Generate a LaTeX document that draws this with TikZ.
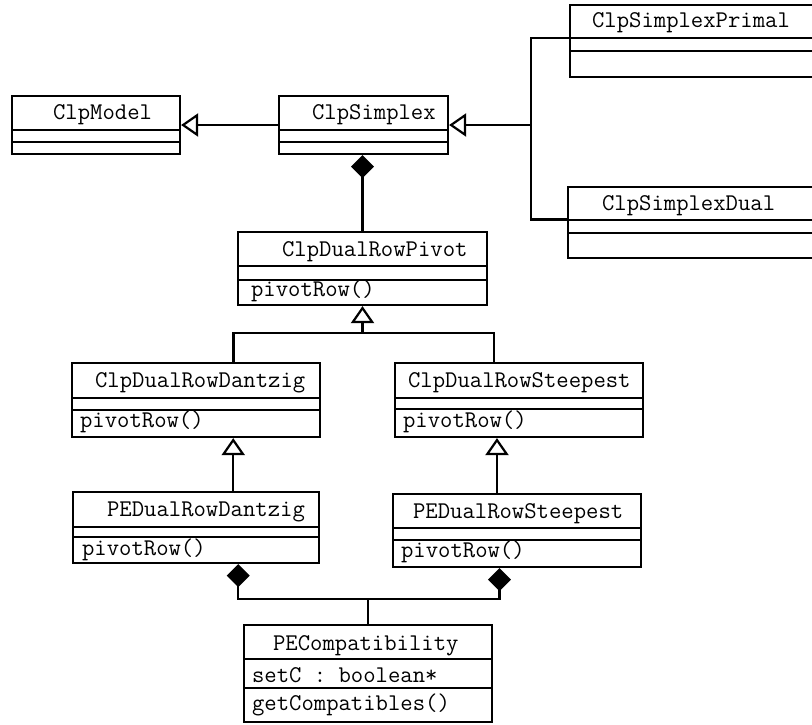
\documentclass[tikz,border=0pt]{standalone}
\usetikzlibrary{arrows.meta,calc,fit}
\tikzstyle{cls}=[draw, inner sep=0pt]
\tikzstyle{ttl}=[anchor=base west, inner sep=0pt, font=\fontsize{12}{14}\selectfont\ttfamily]
\tikzstyle{inh}=[-{Triangle[open, length=8.5pt, width=11.5pt]}]
\tikzstyle{comp}=[-{Diamond[length=11.5pt, width=11.5pt]}]

\begin{document}
\begin{tikzpicture}[x=0.5pt, y=-0.5pt, line width=1.1pt]
\useasboundingbox (0,0) rectangle (812,724);
\clip (0,0) rectangle (812,724);

% classes
\node[cls, fit={(12,96) (180,154)}] (model) {};
\draw (12,130) -- (180,130) (12,142) -- (180,142);
\node[ttl] (modelT) at (52,119) {ClpModel};

\node[cls, fit={(279,96) (448,154)}] (simplex) {};
\draw (279,130) -- (448,130) (279,142) -- (448,142);
\node[ttl] (simplexT) at (311,119) {ClpSimplex};

\node[cls, fit={(570,5) (830,77)}] (primal) {};
\draw (570,38) -- (830,38) (570,51) -- (830,51);
\node[ttl] (primalT) at (591,27) {ClpSimplexPrimal};

\node[cls, fit={(568,187) (830,258)}] (dual) {};
\draw (568,220) -- (830,220) (568,233) -- (830,233);
\node[ttl] (dualT) at (601,210) {ClpSimplexDual};

\node[cls, fit={(238,232) (487,305)}] (pivot) {};
\draw (238,266) -- (487,266) (238,280) -- (487,280);
\node[ttl] (pivotT) at (281,256) {ClpDualRowPivot};
\node[ttl] (pivotM) at (250,296) {pivotRow()};

\node[cls, fit={(72,363) (320,437)}] (dantzig) {};
\draw (72,398) -- (320,398) (72,410) -- (320,410);
\node[ttl] (dantzigT) at (94,387) {ClpDualRowDantzig};
\node[ttl] (dantzigM) at (79,427) {pivotRow()};

\node[cls, fit={(395,363) (643,437)}] (steepest) {};
\draw (395,398) -- (643,398) (395,409) -- (643,409);
\node[ttl] (steepestT) at (407,387) {ClpDualRowSteepest};
\node[ttl] (steepestM) at (402,427) {pivotRow()};

\node[cls, fit={(73,492) (319,563)}] (pedantzig) {};
\draw (73,527) -- (319,527) (73,537) -- (319,537);
\node[ttl] (pedantzigT) at (106,516) {PEDualRowDantzig};
\node[ttl] (pedantzigM) at (81,555) {pivotRow()};

\node[cls, fit={(393,494) (641,567)}] (pesteepest) {};
\draw (393,528) -- (641,528) (393,540) -- (641,540);
\node[ttl] (pesteepestT) at (412,518) {PEDualRowSteepest};
\node[ttl] (pesteepestM) at (400,557) {pivotRow()};

\node[cls, fit={(244,625) (492,722)}] (compat) {};
\draw (244,659) -- (492,659) (244,688) -- (492,688);
\node[ttl] (compatT) at (272,650) {PECompatibility};
\node[ttl] (compatA) at (251,682) {setC : boolean*};
\node[ttl] (compatM) at (251,710) {getCompatibles()};

% generalisation
\draw[inh] (simplex.west) -- (model.east);
\coordinate (fork) at ($(simplex.east)+(82,0)$);
\draw[inh] (fork) -- (simplex.east);
\draw ([yshift=1.5pt]primal.west) -| (fork) |- ([yshift=1.5pt]dual.west);

\coordinate (gen) at ($(pivot.south)+(0,27)$);
\draw[inh] (gen) -- (pivot.south);
\draw ($(dantzig.north west)!.65!(dantzig.north east)$) |- (gen) -| ($(steepest.north west)!.4!(steepest.north east)$);

\coordinate (dz) at ($(pedantzig.north west)!.65!(pedantzig.north east)$);
\draw[inh] (dz) -- (dz |- dantzig.south);
\coordinate (st) at ($(pesteepest.north west)!.42!(pesteepest.north east)$);
\draw[inh] (st) -- (st |- steepest.south);

% composition
\draw[comp] (pivot.north) -- (pivot.north |- simplex.south);
\coordinate (agg) at ($(compat.north)+(0,-25)$);
\draw (compat.north) -- (agg);
\draw[comp] (agg) -| ($(pedantzig.south west)!.67!(pedantzig.south east)$);
\draw[comp] (agg) -| ($(pesteepest.south west)!.43!(pesteepest.south east)$);

\end{tikzpicture}
\end{document}
